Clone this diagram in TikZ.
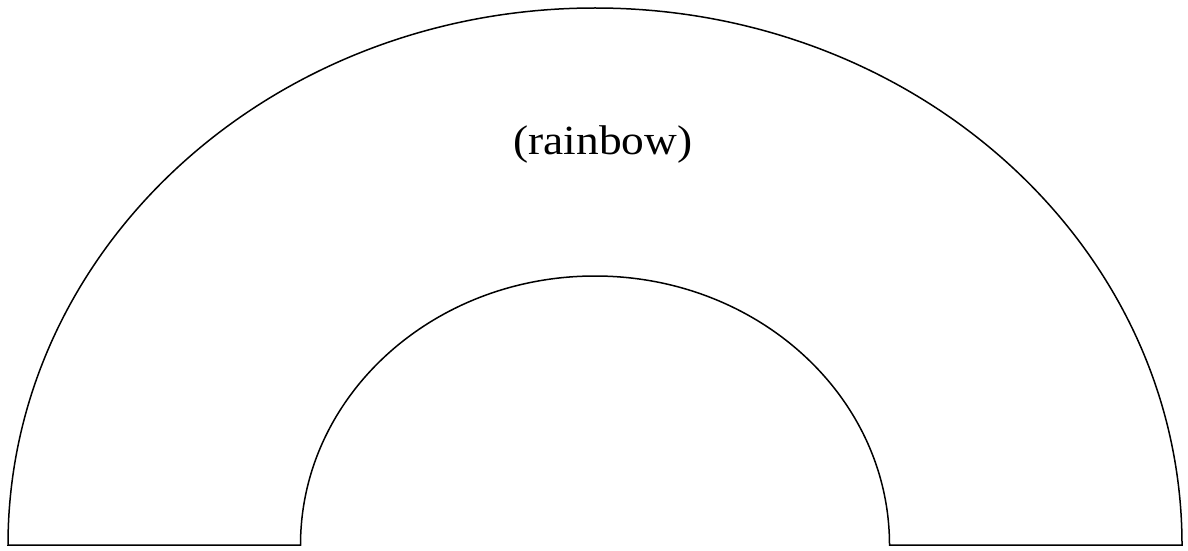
\documentclass[tikz,border=0pt]{standalone}
\usepackage{fontspec}
\setmainfont{Liberation Serif}
\tikzset{outline/.style={draw=black, line width=1.5pt, line join=miter},
         label/.style={font=\fontsize{41.5}{48}\selectfont, xscale=1.094, transform shape, inner sep=0pt}}
\begin{document}
\begin{tikzpicture}[x=1pt,y=1pt]
\useasboundingbox (0,0) rectangle (1188,550);
\draw[outline] (8,5) arc[start angle=180, end angle=0, x radius=587pt, y radius=537pt]
  -- (889.5,5) arc[start angle=0, end angle=180, x radius=294.5pt, y radius=269pt] -- cycle;
\node[label] (rainbow) at (603,405) {(rainbow)};
\end{tikzpicture}
\end{document}
